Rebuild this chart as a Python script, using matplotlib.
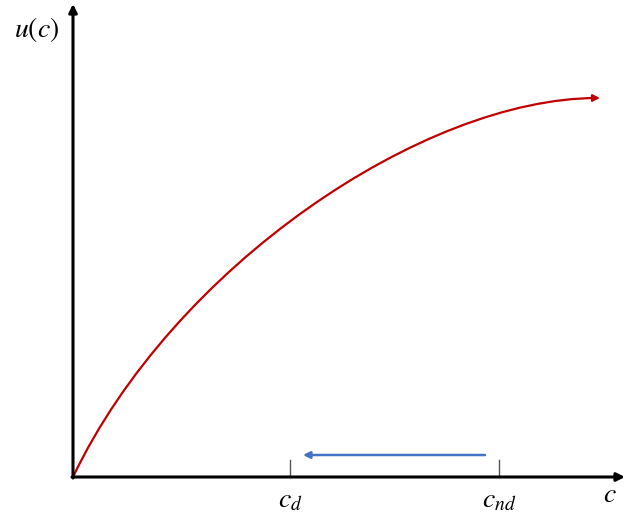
import numpy as np
import matplotlib.pyplot as plt
from matplotlib.path import Path
from matplotlib.patches import FancyArrowPatch

plt.rcParams['mathtext.fontset'] = 'stix'

# utility curve: one cubic bezier (c, u), control points
curve_c = [0, 100, 350, 527]
curve_u = [0, 210, 379, 379]

tick_pos = [217, 426]
tick_labels = [r'$c_d$', r'$c_{nd}$']
shift_from, shift_to, shift_u = 412, 230, 22

red = '#C00000'
blue = '#4472C4'

fig = plt.figure(figsize=(6.25, 5.18), dpi=100)
ax = fig.add_axes([0, 0, 1, 1])
ax.set_xlim(-73, 552)
ax.set_ylim(-41, 477)
ax.axis('off')

# axes with arrow heads
ax.annotate('', xy=(552, 0), xytext=(-1, 0),
            arrowprops=dict(arrowstyle='-|>', color='black', lw=2.2,
                            mutation_scale=12, shrinkA=0, shrinkB=0))
ax.annotate('', xy=(0, 473), xytext=(0, -1),
            arrowprops=dict(arrowstyle='-|>', color='black', lw=2.2,
                            mutation_scale=12, shrinkA=0, shrinkB=0))

# curve
codes = [Path.MOVETO] + [Path.CURVE4] * (len(curve_c) - 1)
curve = Path(np.column_stack([curve_c, curve_u]), codes)
ax.add_patch(FancyArrowPatch(path=curve, arrowstyle='-|>', color=red, lw=1.6,
                             mutation_scale=10))

# ticks and labels
for x, lab in zip(tick_pos, tick_labels):
    ax.plot([x, x], [0, 17], color='#555555', lw=1)
    ax.text(x, -22, lab, ha='center', va='center', fontsize=20)

ax.text(537, -17, r'$c$', ha='center', va='center', fontsize=20)
ax.text(-36, 448, r'$u(c)$', ha='center', va='center', fontsize=20)

# shift arrow
ax.annotate('', xy=(shift_to, shift_u), xytext=(shift_from, shift_u),
            arrowprops=dict(arrowstyle='-|>', color=blue, lw=1.8,
                            mutation_scale=10, shrinkA=0, shrinkB=0))

fig.savefig('out.png', dpi=100)
